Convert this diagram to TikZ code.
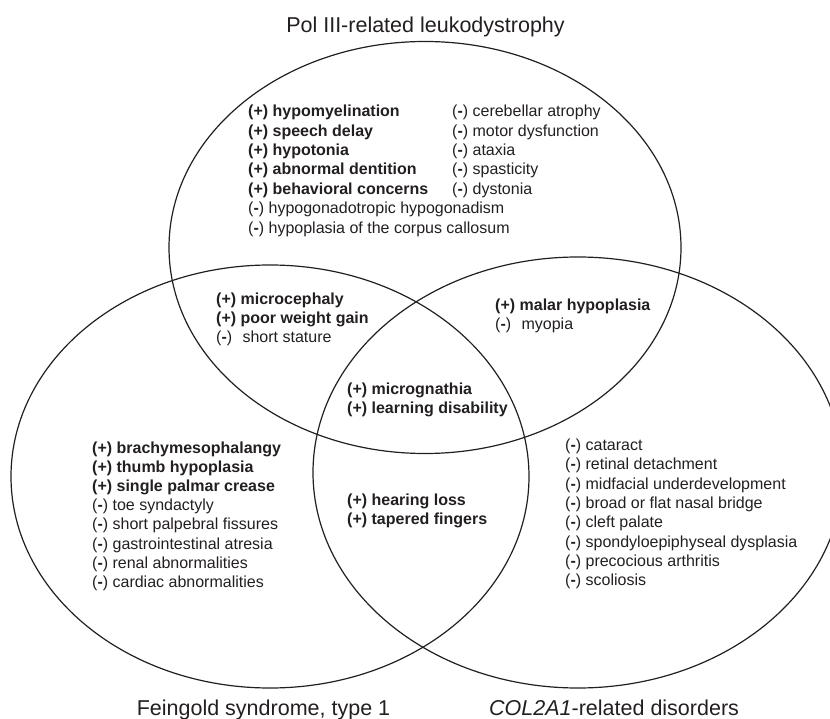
\documentclass[tikz,border=0pt]{standalone}
\usepackage{fontspec}
\setmainfont{Liberation Sans}
\definecolor{ink}{HTML}{231F20}
\begin{document}
\begin{tikzpicture}[x=1pt,y=-1pt,
  every node/.style={inner sep=0pt,text=ink},
  item/.style={anchor=west,font=\fontsize{16}{19}\selectfont},
  plusitem/.style={item,font=\fontsize{16}{19}\selectfont\bfseries},
  setlabel/.style={anchor=base,font=\fontsize{21.5}{25}\selectfont},
  setline/.style={draw=ink,line width=1.2pt}]
\useasboundingbox (0,0) rectangle (830,719);
\clip (0,0) rectangle (830,719);
% sets
\draw[setline] (425,247.5) ellipse [x radius=256, y radius=206];
\draw[setline] (270,476.5) ellipse [x radius=259, y radius=211.5];
\draw[setline] (578,472.5) ellipse [x radius=265, y radius=215.5];
% set titles
\node[setlabel] (tpol) at (425.5,33) {Pol III-related leukodystrophy};
\node[setlabel] (tfei) at (263.5,715.5) {Feingold syndrome, type 1};
\node[setlabel,anchor=base west] (tcol) at (489,715.5) {\textit{COL2A1}-related disorders};
% Pol III only
\node[plusitem] (p1) at (248,112.5) {(+) hypomyelination};
\node[plusitem] (p2) at (248,131.9) {(+) speech delay};
\node[plusitem] (p3) at (248,151.3) {(+) hypotonia};
\node[plusitem] (p4) at (248,170.7) {(+) abnormal dentition};
\node[plusitem] (p5) at (248,190.1) {(+) behavioral concerns};
\node[item] (p6) at (248,209.5) {(\textbf{-}) hypogonadotropic hypogonadism};
\node[item] (p7) at (248,228.9) {(\textbf{-}) hypoplasia of the corpus callosum};
\node[item] (q1) at (452,112.5) {(\textbf{-}) cerebellar atrophy};
\node[item] (q2) at (452,131.9) {(\textbf{-}) motor dysfunction};
\node[item] (q3) at (452,151.3) {(\textbf{-}) ataxia};
\node[item] (q4) at (452,170.7) {(\textbf{-}) spasticity};
\node[item] (q5) at (452,190.1) {(\textbf{-}) dystonia};
% Pol III & Feingold
\node[plusitem] (a1) at (216,300) {(+) microcephaly};
\node[plusitem] (a2) at (216,319.2) {(+) poor weight gain};
\node[item] (a3) at (216,338.4) {(\textbf{-})\hspace{0.65em}short stature};
% Pol III & COL2A1
\node[plusitem] (b1) at (495,306) {(+) malar hypoplasia};
\node[item] (b2) at (495,325.2) {(\textbf{-})\hspace{0.65em}myopia};
% all three
\node[plusitem] (c1) at (347,390) {(+) micrognathia};
\node[plusitem] (c2) at (347,409.2) {(+) learning disability};
% Feingold only
\node[plusitem] (f1) at (92,449) {(+) brachymesophalangy};
\node[plusitem] (f2) at (92,468.2) {(+) thumb hypoplasia};
\node[plusitem] (f3) at (92,487.4) {(+) single palmar crease};
\node[item] (f4) at (92,506.6) {(\textbf{-}) toe syndactyly};
\node[item] (f5) at (92,525.8) {(\textbf{-}) short palpebral fissures};
\node[item] (f6) at (92,545) {(\textbf{-}) gastrointestinal atresia};
\node[item] (f7) at (92,564.2) {(\textbf{-}) renal abnormalities};
\node[item] (f8) at (92,583.4) {(\textbf{-}) cardiac abnormalities};
% Feingold & COL2A1
\node[plusitem] (d1) at (347,501) {(+) hearing loss};
\node[plusitem] (d2) at (347,520.2) {(+) tapered fingers};
% COL2A1 only
\node[item] (k1) at (565,446.5) {(\textbf{-}) cataract};
\node[item] (k2) at (565,465.8) {(\textbf{-}) retinal detachment};
\node[item] (k3) at (565,485.1) {(\textbf{-}) midfacial underdevelopment};
\node[item] (k4) at (565,504.4) {(\textbf{-}) broad or flat nasal bridge};
\node[item] (k5) at (565,523.7) {(\textbf{-}) cleft palate};
\node[item] (k6) at (565,543) {(\textbf{-}) spondyloepiphyseal dysplasia};
\node[item] (k7) at (565,562.3) {(\textbf{-}) precocious arthritis};
\node[item] (k8) at (565,581.6) {(\textbf{-}) scoliosis};
\end{tikzpicture}
\end{document}
